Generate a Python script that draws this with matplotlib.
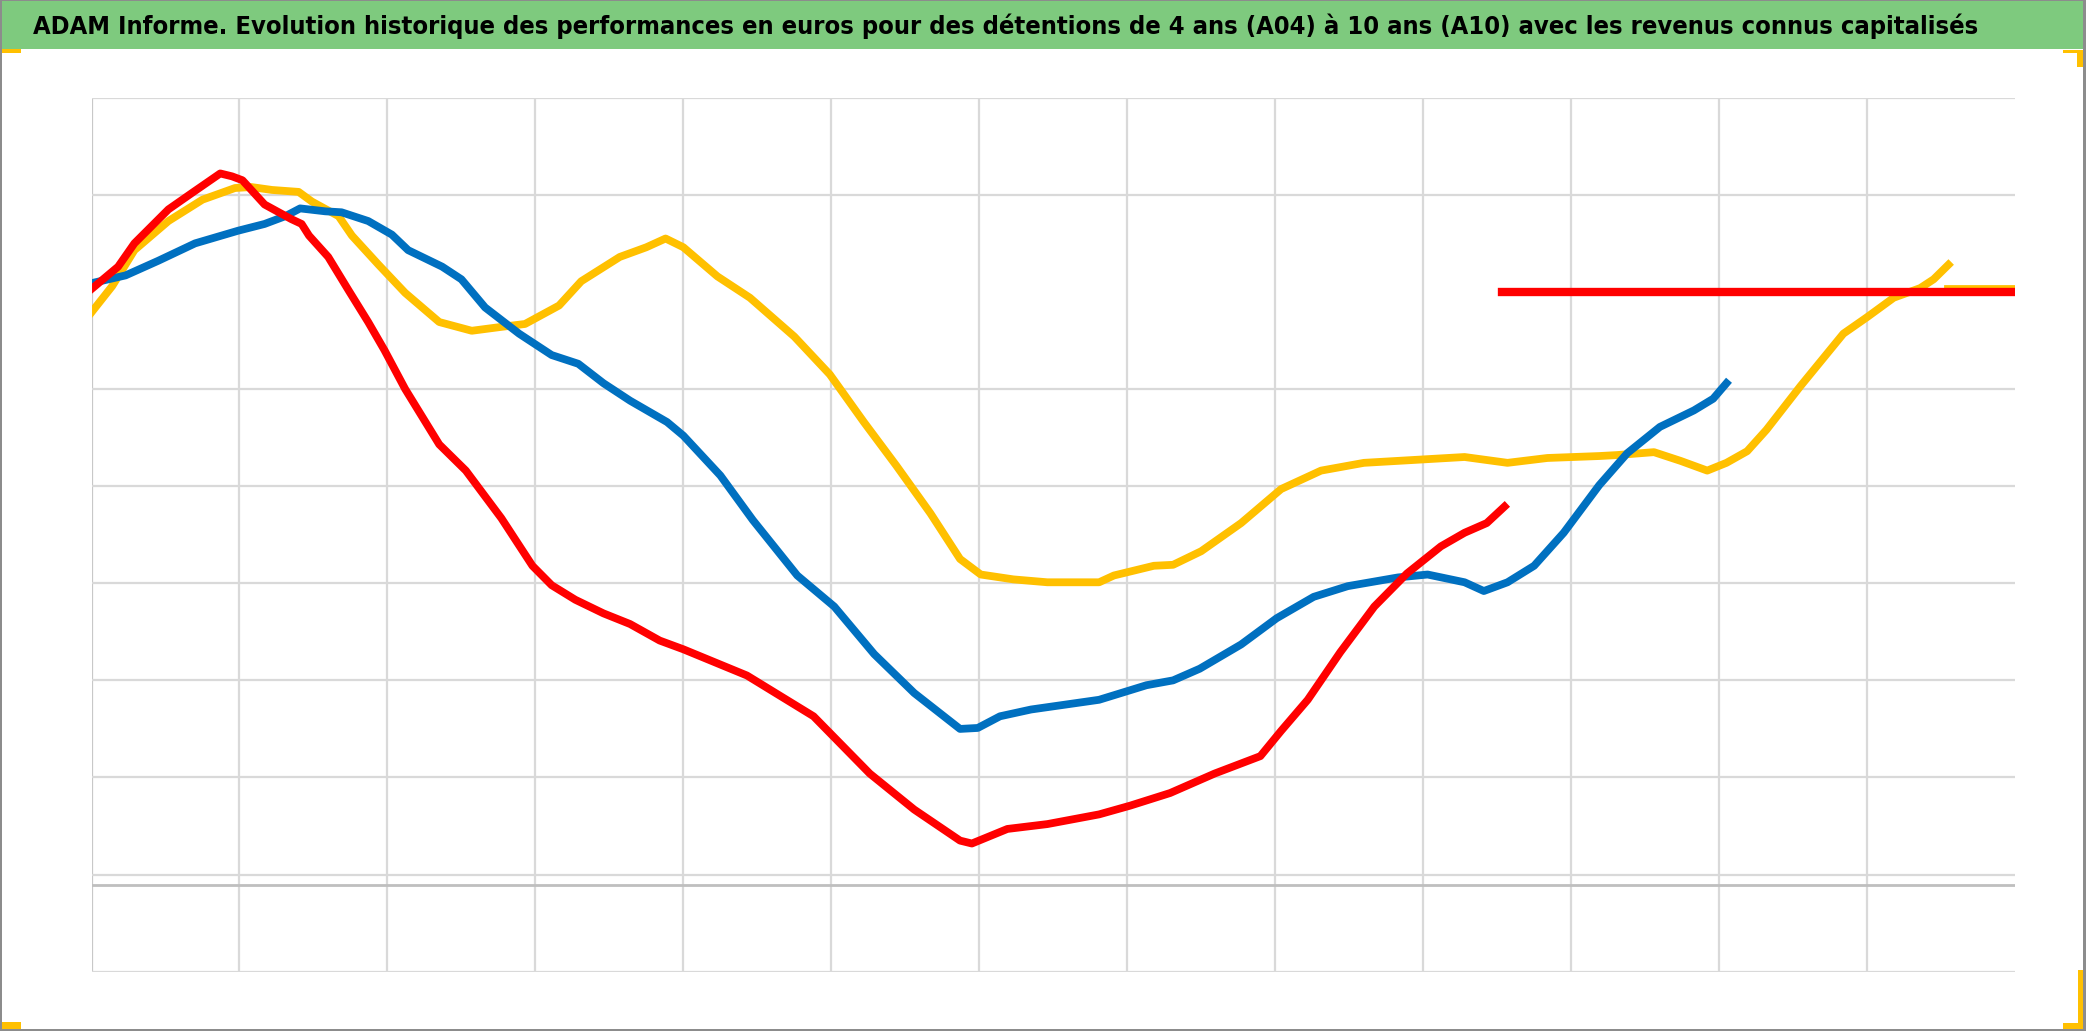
import matplotlib
matplotlib.use("Agg")
import matplotlib.pyplot as plt
from matplotlib.patches import Rectangle
from matplotlib import font_manager as fm

# ---------------- data (x: time in grid units, y: performance in grid units) ----------------
title = ("ADAM Informe. Evolution historique des performances en euros pour des détentions "
         "de 4 ans (A04) à 10 ans (A10) avec les revenus connus capitalisés")

red_x = [0.00, 0.18, 0.29, 0.52, 0.68, 0.87, 0.95, 1.02, 1.17, 1.35, 1.42, 1.47, 1.60, 1.74,
         1.87, 1.98, 2.12, 2.35, 2.53, 2.77, 2.98, 3.11, 3.27, 3.46, 3.64, 3.84, 4.00, 4.43,
         4.88, 5.26, 5.56, 5.87, 5.95, 6.19, 6.46, 6.81, 7.02, 7.29, 7.59, 7.90, 8.04, 8.22,
         8.44, 8.67, 8.89, 9.12, 9.28, 9.43, 9.55]
red_y = [7.03, 7.26, 7.50, 7.85, 8.02, 8.22, 8.19, 8.15, 7.90, 7.75, 7.70, 7.58, 7.36, 7.01,
         6.69, 6.40, 6.00, 5.43, 5.16, 4.67, 4.18, 3.98, 3.83, 3.69, 3.58, 3.41, 3.32, 3.05,
         2.63, 2.04, 1.67, 1.35, 1.32, 1.47, 1.52, 1.62, 1.71, 1.84, 2.04, 2.22, 2.48, 2.80,
         3.29, 3.76, 4.10, 4.38, 4.52, 4.62, 4.79]

blue_x = [0.00, 0.23, 0.45, 0.70, 0.99, 1.17, 1.31, 1.41, 1.58, 1.69, 1.87, 2.03, 2.14, 2.37,
          2.50, 2.66, 2.89, 3.11, 3.29, 3.46, 3.64, 3.89, 4.00, 4.25, 4.47, 4.77, 5.02, 5.29,
          5.56, 5.87, 5.99, 6.14, 6.35, 6.81, 7.13, 7.31, 7.49, 7.77, 8.01, 8.26, 8.49, 8.83,
          9.03, 9.28, 9.41, 9.57, 9.75, 9.95, 10.19, 10.38, 10.60, 10.83, 10.96, 11.05]
blue_y = [7.09, 7.17, 7.32, 7.50, 7.63, 7.70, 7.78, 7.86, 7.83, 7.82, 7.73, 7.59, 7.43, 7.26,
          7.13, 6.84, 6.57, 6.35, 6.26, 6.06, 5.88, 5.66, 5.52, 5.11, 4.65, 4.08, 3.76, 3.27,
          2.87, 2.50, 2.51, 2.63, 2.70, 2.80, 2.95, 3.00, 3.12, 3.37, 3.64, 3.86, 3.97, 4.06,
          4.09, 4.01, 3.92, 4.01, 4.18, 4.52, 5.01, 5.34, 5.61, 5.78, 5.90, 6.06]

yellow_x = [0.00, 0.14, 0.29, 0.52, 0.75, 0.97, 1.08, 1.22, 1.40, 1.49, 1.67, 1.76, 1.94, 2.12,
            2.35, 2.57, 2.77, 2.93, 3.16, 3.31, 3.57, 3.75, 3.88, 4.00, 4.23, 4.45, 4.75, 4.99,
            5.22, 5.44, 5.67, 5.87, 6.01, 6.23, 6.46, 6.81, 6.91, 7.18, 7.31, 7.50, 7.77, 8.04,
            8.31, 8.60, 8.94, 9.28, 9.57, 9.84, 10.19, 10.31, 10.56, 10.74, 10.92, 11.05, 11.19,
            11.32, 11.55, 11.84, 12.00, 12.18, 12.36, 12.45, 12.55]
yellow_y = [6.79, 7.06, 7.43, 7.73, 7.95, 8.07, 8.08, 8.05, 8.03, 7.93, 7.78, 7.58, 7.28, 6.99,
            6.69, 6.60, 6.64, 6.67, 6.86, 7.11, 7.36, 7.46, 7.55, 7.46, 7.16, 6.94, 6.54, 6.15,
            5.66, 5.21, 4.72, 4.25, 4.09, 4.04, 4.01, 4.01, 4.08, 4.18, 4.19, 4.33, 4.62, 4.97,
            5.16, 5.24, 5.27, 5.30, 5.24, 5.29, 5.31, 5.32, 5.35, 5.26, 5.16, 5.24, 5.36,
            5.58, 6.03, 6.57, 6.74, 6.94, 7.04, 7.13, 7.28]

# current-value flat lines
red_flat_x = [9.53, 13.0]
red_flat_y = [7.0, 7.0]
yellow_flat_x = [12.55, 13.0]
yellow_flat_y = [7.03, 7.03]

x_grid = list(range(0, 13))
y_grid = [0, 1, 2, 3, 4, 5, 6, 8, 9]
x_axis_level = 0.89

# ---------------- title font: prefer a condensed / narrow bold face ----------------
def pick_title_font():
    prefs = ["liberation", "dejavu", "noto", "roboto", "open", "lato", "inter"]
    found = []
    for f in fm.fontManager.ttflist:
        n = (f.fname.split("/")[-1] + " " + f.name).lower()
        if ("condensed" in n or "narrow" in n) and "bold" in n and \
                not any(k in n for k in ("semi", "extra", "italic", "oblique", "ultra", "light")):
            rank = next((i for i, p in enumerate(prefs) if p in n), len(prefs))
            found.append((rank, f.fname))
    if found:
        found.sort()
        return fm.FontProperties(fname=found[0][1])
    return fm.FontProperties(family=["Roboto", "DejaVu Sans"], weight="bold")

# ---------------- figure ----------------
W, H = 2086, 1031
fig = plt.figure(figsize=(W / 100, H / 100), dpi=100)
fig.patch.set_facecolor("white")

# title bar
fig.patches.append(Rectangle((0, 1 - 49 / H), 2084 / W, 49 / H, transform=fig.transFigure,
                             facecolor="#7ECA7E", edgecolor="none", zorder=1))
tfp = pick_title_font()
ttl = fig.text(33 / W, 1 - 34 / H, title, ha="left", va="baseline", fontproperties=tfp,
               fontsize=20, color="black")
renderer = fig.canvas.get_renderer()
tw = ttl.get_window_extent(renderer).width
target_w = 1952.0
new_size = 20 * target_w / tw
ttl.set_fontsize(min(new_size, 25))

# yellow selection handles
def px_rect(x0, y0, x1, y1, color="#FFC000"):
    fig.patches.append(Rectangle((x0 / W, 1 - y1 / H), (x1 - x0) / W, (y1 - y0) / H,
                                 transform=fig.transFigure, facecolor=color,
                                 edgecolor="none", zorder=3))

px_rect(0, 49, 21, 53)
px_rect(2063, 50, 2084, 53)
px_rect(2077, 50, 2084, 67)
px_rect(0, 1022, 21, 1030)
px_rect(2063, 1023, 2084, 1029)
px_rect(2078, 970, 2084, 1029)

# outer frame
px_rect(0, 0, 2, 1031, "#8c8c8c")
px_rect(0, 0, 2086, 1, "#8c8c8c")
px_rect(2083, 0, 2086, 1031, "#8c8c8c")
px_rect(0, 1029, 2086, 1031, "#8c8c8c")

# plot area
left, right, top, bottom = 91.5, 2015, 97.7, 971.7
ax = fig.add_axes([left / W, 1 - bottom / H, (right - left) / W, (bottom - top) / H])
ax.set_xlim(0, 13)
ax.set_ylim(0, 9)
for s in ax.spines.values():
    s.set_visible(False)
ax.set_xticks([])
ax.set_yticks([])

for gx in x_grid:
    ax.axvline(gx, color="#d9d9d9" if gx else "#c8c8c8", lw=1.6, zorder=0)
for gy in y_grid:
    ax.axhline(gy, color="#d9d9d9", lw=1.6, zorder=0)
ax.axhline(x_axis_level, color="#bfbfbf", lw=2.0, zorder=0)

lw = 5.6
ax.plot(yellow_x, yellow_y, color="#FFC000", lw=lw, zorder=2, solid_joinstyle="round")
ax.plot(yellow_flat_x, yellow_flat_y, color="#FFC000", lw=lw, zorder=2)
ax.plot(blue_x, blue_y, color="#0070C0", lw=lw, zorder=3, solid_joinstyle="round")
ax.plot(red_x, red_y, color="#FF0000", lw=lw, zorder=4, solid_joinstyle="round")
ax.plot(red_flat_x, red_flat_y, color="#FF0000", lw=6.0, zorder=5)

fig.savefig("out.png", dpi=100, facecolor="white")
